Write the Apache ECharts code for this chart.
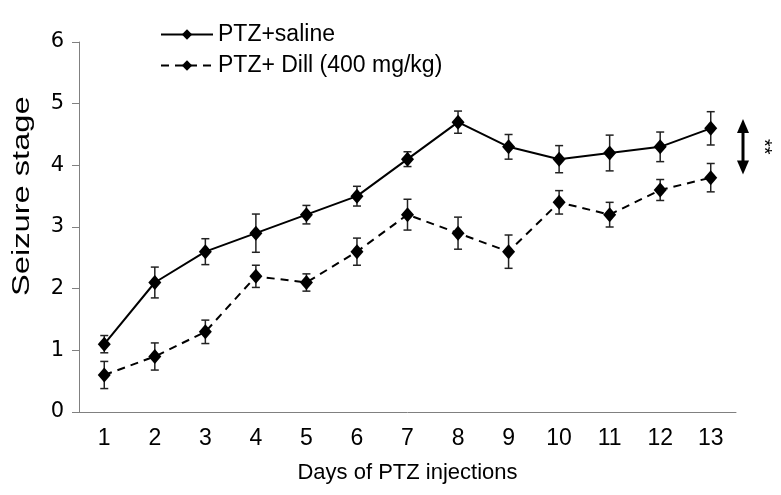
<!DOCTYPE html>
<html>
<head>
<meta charset="utf-8">
<script src="https://cdn.jsdelivr.net/npm/echarts@6/dist/echarts.min.js"></script>
<style>
html,body{margin:0;padding:0;background:#fff;}
#chart{width:781px;height:495px;}
</style>
</head>
<body>
<div id="chart"></div>
<script>
// ---- data ----
var days = ['1','2','3','4','5','6','7','8','9','10','11','12','13'];
var salineName = 'PTZ+saline';
var dillName = 'PTZ+ Dill (400 mg/kg)';
var salineMean = [1.1, 2.1, 2.6, 2.9, 3.2, 3.5, 4.1, 4.7, 4.3, 4.1, 4.2, 4.3, 4.6];
var salineSem  = [0.14, 0.25, 0.21, 0.31, 0.15, 0.16, 0.12, 0.18, 0.2, 0.22, 0.29, 0.24, 0.27];
var dillMean   = [0.6, 0.9, 1.3, 2.2, 2.1, 2.6, 3.2, 2.9, 2.6, 3.4, 3.2, 3.6, 3.8];
var dillSem    = [0.22, 0.22, 0.19, 0.18, 0.14, 0.22, 0.25, 0.26, 0.27, 0.19, 0.2, 0.17, 0.23];
var yTicks = [0, 1, 2, 3, 4, 5, 6];
var sigArrow = [4.75, 3.85];   // extent of the significance arrow (y values)
var sigText = '**';
var xTitle = 'Days of PTZ injections';
var yTitle = 'Seizure stage';

function errData(mean, sem) {
  return mean.map(function (m, i) { return [i, m - sem[i], m + sem[i]]; });
}

function errRender(params, api) {
  var x = api.value(0);
  var lo = api.coord([x, api.value(1)]);
  var hi = api.coord([x, api.value(2)]);
  var w = 4;
  var st = { stroke: '#222', lineWidth: 1.5 };
  return {
    type: 'group',
    children: [
      { type: 'line', shape: { x1: lo[0], y1: lo[1], x2: hi[0], y2: hi[1] }, style: st },
      { type: 'line', shape: { x1: lo[0] - w, y1: lo[1], x2: lo[0] + w, y2: lo[1] }, style: st },
      { type: 'line', shape: { x1: hi[0] - w, y1: hi[1], x2: hi[0] + w, y2: hi[1] }, style: st }
    ]
  };
}

var chart = echarts.init(document.getElementById('chart'), null, { renderer: 'canvas' });
var option = {
  backgroundColor: '#fff',
  animation: false,
  grid: { left: 79, right: 45, top: 42, bottom: 83 },
  legend: {
    orient: 'vertical',
    left: 155,
    top: 18,
    itemWidth: 52,
    itemHeight: 13,
    itemGap: 8,
    textStyle: { fontFamily: 'Liberation Sans', fontSize: 23, color: '#000' },
    data: [salineName, dillName]
  },
  xAxis: {
    type: 'category',
    data: days,
    boundaryGap: true,
    axisLine: { lineStyle: { color: '#808080', width: 1 } },
    axisTick: { show: false },
    axisLabel: { fontFamily: 'Liberation Sans', fontSize: 23, color: '#000', margin: 15 },
    name: xTitle,
    nameLocation: 'middle',
    nameGap: 50,
    nameTextStyle: { fontFamily: 'Liberation Sans', fontSize: 22, color: '#000' }
  },
  yAxis: {
    type: 'value',
    min: yTicks[0],
    max: yTicks[yTicks.length - 1],
    interval: 1,
    splitLine: { show: false },
    axisLine: { show: true, lineStyle: { color: '#808080', width: 1 } },
    axisTick: { show: true, inside: false, length: 7, lineStyle: { color: '#808080' } },
    axisLabel: { fontFamily: 'DejaVu Sans', fontSize: 21, color: '#000', margin: 15 }
  },
  series: [
    {
      name: salineName,
      type: 'line',
      data: salineMean,
      symbol: 'diamond',
      symbolSize: [13, 15],
      itemStyle: { color: '#000' },
      lineStyle: { color: '#000', width: 2, type: 'solid' },
      z: 3
    },
    {
      name: dillName,
      type: 'line',
      data: dillMean,
      symbol: 'diamond',
      symbolSize: [13, 15],
      itemStyle: { color: '#000' },
      lineStyle: { color: '#000', width: 2, type: [8, 6] },
      z: 3
    },
    {
      type: 'custom',
      name: salineName + ' SEM',
      data: errData(salineMean, salineSem),
      renderItem: errRender,
      encode: { x: 0, y: [1, 2] },
      z: 2
    },
    {
      type: 'custom',
      name: dillName + ' SEM',
      data: errData(dillMean, dillSem),
      renderItem: errRender,
      encode: { x: 0, y: [1, 2] },
      z: 2
    }
  ]
};
chart.setOption(option);

// annotations: y-axis title (stretched like the reference) and significance arrow
var gridRight = 781 - 45;
var yTop = chart.convertToPixel({ yAxisIndex: 0 }, sigArrow[0]);
var yBot = chart.convertToPixel({ yAxisIndex: 0 }, sigArrow[1]);
var yMid = chart.convertToPixel({ yAxisIndex: 0 }, 3.5);
var ax = gridRight + 7;
chart.setOption({
  graphic: [
    {
      type: 'text',
      x: 23, y: yMid,
      rotation: Math.PI / 2,
      scaleX: 1.42,
      style: {
        text: yTitle, fontFamily: 'Liberation Sans', fontSize: 23, fill: '#000',
        align: 'center', verticalAlign: 'middle'
      }
    },
    {
      type: 'line',
      shape: { x1: ax, y1: yTop + 10, x2: ax, y2: yBot - 10 },
      style: { stroke: '#000', lineWidth: 3 }
    },
    {
      type: 'polygon',
      shape: { points: [[ax, yTop], [ax - 6, yTop + 14], [ax + 6, yTop + 14]] },
      style: { fill: '#000' }
    },
    {
      type: 'polygon',
      shape: { points: [[ax, yBot], [ax - 6, yBot - 14], [ax + 6, yBot - 14]] },
      style: { fill: '#000' }
    },
    {
      type: 'text',
      x: ax + 21, y: (yTop + yBot) / 2,
      rotation: -Math.PI / 2,
      style: {
        text: sigText, fontFamily: 'Liberation Sans', fontSize: 20, fill: '#000',
        align: 'center', verticalAlign: 'middle'
      }
    }
  ]
});
</script>
</body>
</html>
